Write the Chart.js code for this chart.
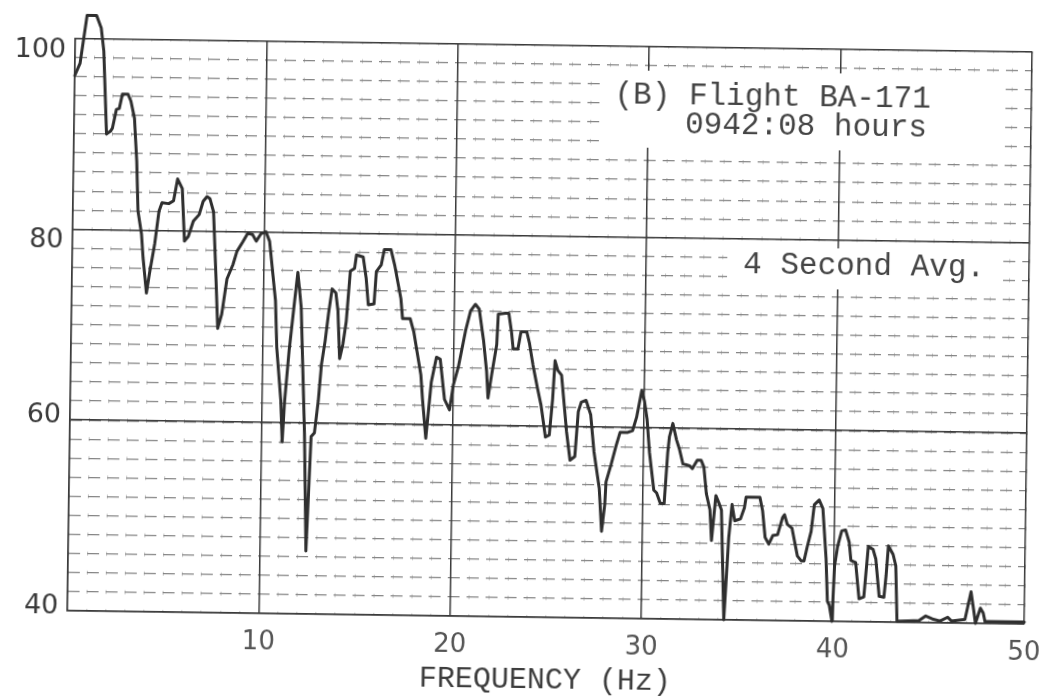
<!DOCTYPE html>
<html>
<head>
<meta charset="utf-8">
<script src="https://cdn.jsdelivr.net/npm/chart.js@4.4.1/dist/chart.umd.min.js"></script>
<style>
  html, body { margin: 0; padding: 0; background: #fff; overflow: hidden; }
  #wrap { position: relative; width: 1045px; height: 699px; transform: rotate(0.8deg); transform-origin: 50% 50%; }
</style>
</head>
<body>
<div id="wrap"><canvas id="spectrum"></canvas></div>
<script>
// Spectrum trace: frequency (Hz) and level (dB)
const freqHz = [
  0.0, 0.27, 0.6, 1.1, 1.35, 1.5, 1.7, 1.9, 2.0, 2.2, 2.35, 2.5, 2.8, 2.95, 3.15, 3.3, 3.4, 3.6, 3.7, 3.9,
  4.05, 4.3, 4.5, 4.65, 5.0, 5.25, 5.45, 5.7, 5.85, 6.05, 6.3, 6.6, 6.8, 7.0, 7.15, 7.35, 7.5, 7.65, 7.85, 8.1,
  8.4, 8.6, 8.9, 9.15, 9.4, 9.6, 9.85, 10.1, 10.3, 10.65, 10.75, 11.0, 11.1, 11.2, 11.4, 11.65, 11.8, 12.0, 12.26, 12.42,
  12.61, 12.78, 12.96, 13.1, 13.27, 13.43, 13.6, 13.8, 13.92, 14.04, 14.2, 14.36, 14.54, 14.76, 14.85, 15.2, 15.37, 15.5, 15.8, 15.9,
  16.15, 16.3, 16.65, 16.85, 17.2, 17.3, 17.7, 17.9, 18.3, 18.4, 18.6, 18.85, 19.1, 19.3, 19.55, 19.82, 20.0, 20.25, 20.6, 20.85,
  21.1, 21.3, 21.55, 21.73, 21.82, 22.0, 22.24, 22.3, 22.67, 22.85, 23.0, 23.1, 23.35, 23.5, 23.8, 23.95, 24.15, 24.4, 24.6, 24.85,
  25.05, 25.2, 25.3, 25.45, 25.65, 25.95, 26.15, 26.4, 26.55, 26.7, 26.95, 27.2, 27.4, 27.7, 27.85, 28.0, 28.05, 28.3, 28.55, 28.75,
  29.15, 29.4, 29.6, 29.85, 30.0, 30.15, 30.3, 30.55, 30.7, 30.9, 31.1, 31.25, 31.33, 31.5, 31.7, 31.85, 32.05, 32.4, 32.55, 32.8,
  33.0, 33.15, 33.3, 33.5, 33.6, 33.8, 33.95, 34.1, 34.3, 34.5, 34.65, 34.8, 35.1, 35.3, 35.38, 36.1, 36.25, 36.4, 36.6, 36.8,
  37.05, 37.3, 37.4, 37.55, 37.8, 38.1, 38.3, 38.45, 38.6, 38.8, 38.95, 39.2, 39.4, 39.6, 39.7, 39.8, 39.95, 40.05, 40.2, 40.4,
  40.6, 40.8, 40.9, 41.15, 41.35, 41.6, 41.8, 42.05, 42.2, 42.4, 42.65, 42.75, 42.85, 43.1, 43.25, 43.35, 44.5, 44.85, 45.2, 45.6,
  46.0, 46.2, 46.9, 47.2, 47.35, 47.45, 47.7, 47.85, 47.95, 50.0
];
const levelDb = [
  96.1, 97.4, 102.4, 102.4, 101.1, 98.7, 90.0, 90.3, 90.6, 92.6, 92.7, 94.2, 94.2, 93.5, 91.7, 87.2, 82.0, 79.6, 77.1, 73.4,
  75.5, 78.6, 82.0, 82.9, 82.8, 83.1, 85.4, 84.4, 78.9, 79.4, 81.0, 81.7, 83.1, 83.6, 83.4, 82.0, 76.1, 69.8, 71.3, 75.0,
  76.5, 77.9, 78.9, 79.8, 79.7, 79.0, 79.8, 80.0, 79.0, 72.8, 67.9, 62.3, 58.0, 62.3, 67.6, 72.8, 75.8, 72.1, 59.0, 46.6,
  58.6, 59.0, 62.4, 66.2, 68.6, 71.5, 74.1, 73.7, 71.8, 66.8, 68.3, 70.7, 76.0, 76.3, 77.7, 77.5, 75.3, 72.5, 72.6, 76.0,
  76.7, 78.3, 78.3, 76.7, 73.2, 71.1, 71.1, 69.7, 65.2, 62.7, 58.6, 64.5, 67.1, 66.9, 62.7, 61.6, 64.2, 66.1, 69.9, 72.0,
  72.7, 72.2, 68.9, 65.7, 62.9, 65.4, 68.5, 71.7, 71.8, 71.8, 69.9, 68.1, 68.1, 69.9, 69.9, 68.7, 66.4, 64.0, 62.2, 58.9,
  59.1, 62.9, 66.9, 65.9, 65.4, 59.5, 56.5, 56.9, 61.6, 62.6, 62.8, 61.3, 57.4, 53.6, 49.1, 51.9, 54.3, 56.1, 58.1, 59.5,
  59.5, 59.7, 61.1, 63.9, 62.8, 60.9, 57.4, 53.5, 53.2, 52.1, 52.1, 57.4, 59.1, 60.5, 58.8, 57.9, 56.3, 56.1, 55.8, 56.7,
  56.7, 56.0, 53.2, 51.5, 48.3, 53.0, 52.3, 51.5, 40.0, 48.6, 52.1, 50.4, 50.6, 51.8, 52.9, 52.9, 51.5, 48.7, 48.0, 48.9,
  49.0, 50.8, 51.1, 50.1, 49.7, 46.8, 46.3, 46.3, 47.7, 49.4, 52.2, 52.7, 51.8, 46.6, 42.1, 41.7, 40.0, 45.8, 47.9, 49.5,
  49.6, 48.3, 46.4, 46.2, 42.4, 42.6, 47.9, 47.6, 46.6, 42.7, 42.6, 44.9, 48.0, 47.1, 45.9, 40.1, 40.2, 40.7, 40.4, 40.2,
  40.6, 40.2, 40.4, 43.3, 41.4, 40.0, 41.6, 41.1, 40.2, 40.2
];

// Axis ticks and labels
const xMajorTicks = [0, 10, 20, 30, 40, 50];
const xTickLabels = ['', '10', '20', '30', '40', '50'];
const yMajorTicks = [40, 60, 80, 100];
const yTickLabels = ['40', '60', '80', '100'];
const xAxisTitle = 'FREQUENCY (Hz)';

// Annotation text
const flightLabel = '(B) Flight BA-171';
const timeLabel = '0942:08 hours';
const avgLabel = '4 Second Avg.';

const MONO = "'Liberation Mono', 'DejaVu Sans Mono', monospace";

// White label blocks on the graph paper with typed annotations
const annotations = {
  id: 'annotations',
  beforeDatasetsDraw(chart) {
    const c = chart.ctx;
    c.save();
    c.fillStyle = '#ffffff';
    c.fillRect(601, 69, 396, 77);
    c.fillRect(726, 244, 270, 41);
    c.fillStyle = '#444444';
    c.font = '31px ' + MONO;
    c.textBaseline = 'alphabetic';
    c.textAlign = 'left';
    c.fillText(flightLabel, 611, 102);
    c.fillText(timeLabel, 682, 131);
    c.fillText(avgLabel, 742, 270);
    c.restore();
  }
};

new Chart(document.getElementById('spectrum'), {
  type: 'line',
  data: {
    datasets: [{
      data: freqHz.map((f, i) => ({ x: f, y: levelDb[i] })),
      borderColor: '#2f2f2f',
      borderWidth: 3,
      pointRadius: 0,
      tension: 0,
      clip: false,
      borderJoinStyle: 'round',
      borderCapStyle: 'round',
      xAxisID: 'x',
      yAxisID: 'y'
    }]
  },
  options: {
    responsive: true,
    maintainAspectRatio: false,
    animation: false,
    events: [],
    layout: { padding: { left: 0, right: 17, top: 44.5, bottom: 0 } },
    plugins: { legend: { display: false }, tooltip: { enabled: false } },
    scales: {
      xMinor: {
        type: 'linear', position: 'bottom', min: 0, max: 50,
        ticks: { display: false, stepSize: 1 },
        grid: { color: '#c4c4c4', lineWidth: 1, drawTicks: false, z: -1 },
        border: { display: false, dash: [4, 15.08], dashOffset: 2 },
        afterFit(s) { s.height = 0; s.paddingLeft = 0; s.paddingRight = 0; }
      },
      yMinor: {
        type: 'linear', position: 'left', min: 40, max: 100,
        ticks: { display: false, stepSize: 2 },
        grid: { color: '#858585', lineWidth: 1.2, drawTicks: false, z: -1 },
        border: { display: false, dash: [12, 7] },
        afterFit(s) { s.width = 0; s.paddingTop = 0; s.paddingBottom = 0; }
      },
      x: {
        type: 'linear', position: 'bottom', min: 0, max: 50,
        afterBuildTicks(s) { s.ticks = xMajorTicks.map(v => ({ value: v })); },
        ticks: {
          callback: (v, i) => xTickLabels[i],
          color: '#555555',
          font: { family: "'DejaVu Sans', sans-serif", size: 26 },
          padding: 14,
          maxRotation: 0,
          autoSkip: false
        },
        grid: { color: '#3a3a3a', lineWidth: 1.5, drawTicks: false },
        border: { display: true, color: '#3a3a3a', width: 1.5 },
        title: {
          display: true, text: xAxisTitle, color: '#3d3d3d',
          font: { family: MONO, size: 30, lineHeight: 1.2 },
          padding: { top: 0, bottom: 1 }
        },
        afterFit(s) { s.height = 82; s.paddingLeft = 0; s.paddingRight = 0; }
      },
      y: {
        type: 'linear', position: 'left', min: 40, max: 100,
        afterBuildTicks(s) { s.ticks = yMajorTicks.map(v => ({ value: v })); },
        ticks: {
          // typed labels sit a little below the upper lines and above the lower ones
          callback: (v, i) => (v >= 80 ? ['', yTickLabels[i]] : [yTickLabels[i], '']),
          color: '#3a3a3a',
          font: { family: "'DejaVu Sans', sans-serif", size: 27, lineHeight: '16px' },
          padding: 9,
          labelOffset: 4,
          autoSkip: false
        },
        grid: { color: '#3a3a3a', lineWidth: 1.5, drawTicks: false },
        border: { display: true, color: '#3a3a3a', width: 1.5 },
        afterFit(s) { s.width = 71; s.paddingTop = 0; s.paddingBottom = 0; }
      }
    }
  },
  plugins: [annotations]
});
</script>
</body>
</html>
